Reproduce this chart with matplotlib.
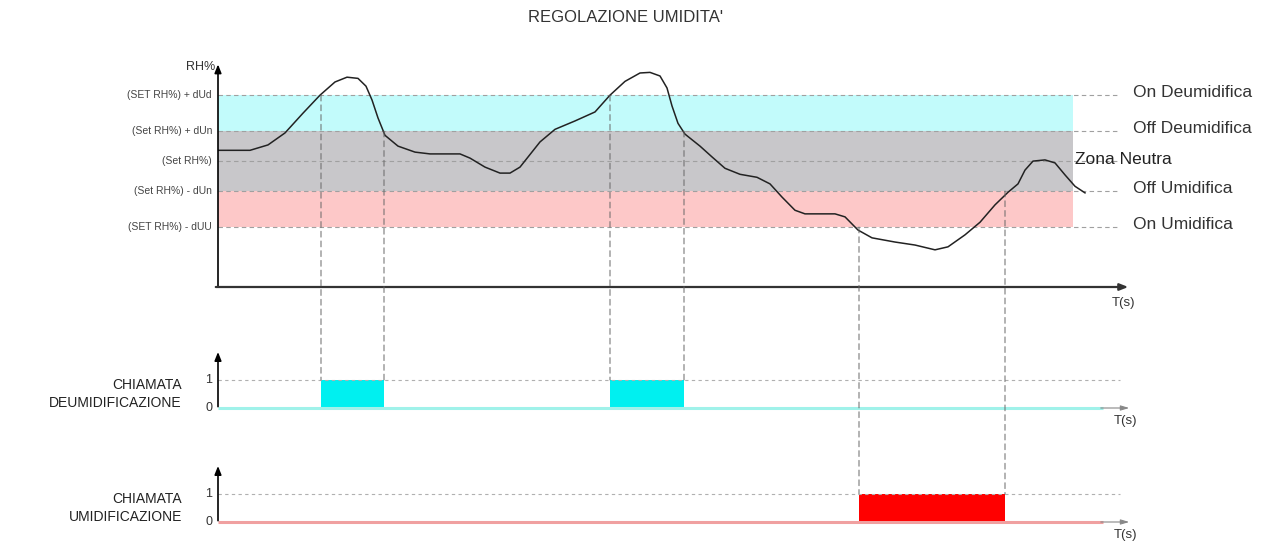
import numpy as np
import matplotlib.pyplot as plt
from matplotlib.patches import ConnectionPatch

plt.rcParams['font.family'] = ['Liberation Sans', 'DejaVu Sans']

# --- data ---
# humidity curve: time (s) and RH (%)
t_curve = [0, 32, 50, 67, 85, 102, 117, 129, 140, 148, 154, 160, 167, 180, 197, 212,
           242, 252, 267, 282, 292, 302, 322, 337, 357, 377, 392, 407, 422, 432, 442,
           449, 454, 460, 467, 482, 494, 507, 522, 539, 552, 564, 577, 587, 617, 627,
           640, 654, 677, 697, 717, 730, 747, 762, 777, 790, 800, 807, 815, 827, 837,
           847, 857, 867]
rh_curve = [51.8, 51.8, 52.7, 54.7, 58.0, 61.0, 63.2, 64.0, 63.8, 62.5, 60.2, 57.2,
            54.3, 52.5, 51.5, 51.2, 51.2, 50.5, 49.0, 48.0, 48.0, 49.0, 53.2, 55.3,
            56.7, 58.2, 61.0, 63.3, 64.7, 64.8, 64.2, 62.2, 59.2, 56.3, 54.5, 52.5,
            50.7, 48.8, 47.8, 47.3, 46.2, 44.0, 41.8, 41.2, 41.2, 40.7, 38.5, 37.2,
            36.5, 36.0, 35.2, 35.7, 37.7, 39.8, 42.7, 44.8, 46.2, 48.5, 50.0, 50.2,
            49.7, 47.7, 45.8, 44.7]

set_rh = 50
dUd = 11
dUn = 5
dUU = 11
level_names = ['(SET RH%) + dUd', '(Set RH%) + dUn', '(Set RH%)',
               '(Set RH%) - dUn', '(SET RH%) - dUU']
level_values = [set_rh + dUd, set_rh + dUn, set_rh, set_rh - dUn, set_rh - dUU]
right_names = ['On Deumidifica', 'Off Deumidifica', 'Off Umidifica', 'On Umidifica']
right_values = [set_rh + dUd, set_rh + dUn, set_rh - dUn, set_rh - dUU]

# switching instants (s)
deum_on = [103, 392]
deum_off = [166, 466]
umid_on = [641]
umid_off = [787]

W, H = 1263, 542
fig = plt.figure(figsize=(W / 100, H / 100), dpi=100)


def axes_px(x0, y0, x1, y1):
    return fig.add_axes([x0 / W, 1 - y1 / H, (x1 - x0) / W, (y1 - y0) / H])


t_max = 912
ax = axes_px(218, 55, 218 + t_max, 287)
ax.set_xlim(0, t_max)
ax.set_ylim(29, 67.7)
ax2 = axes_px(218, 345, 218 + t_max, 430)
ax2.set_xlim(0, t_max)
ax2.set_ylim(-22 / 28, 63 / 28)
ax3 = axes_px(218, 455, 218 + t_max, 542)
ax3.set_xlim(0, t_max)
ax3.set_ylim(-20 / 28, 67 / 28)
for a in (ax, ax2, ax3):
    a.set_axis_off()

arrow = dict(arrowstyle='-|>,head_length=0.5,head_width=0.2', color='black', lw=1.2)

# --- top chart ---
band_end = 855
ax.fill_between([0, band_end], set_rh + dUn, set_rh + dUd, color='#c2fbfb', lw=0)
ax.fill_between([0, band_end], set_rh - dUn, set_rh + dUn, color='#c8c7ca', lw=0)
ax.fill_between([0, band_end], set_rh - dUU, set_rh - dUn, color='#fdc8c8', lw=0)
for v in level_values:
    ax.plot([0, 902], [v, v], color='#a0a0a0', lw=0.8, ls=(0, (4, 3)))

ax.plot(t_curve, rh_curve, color='#222222', lw=1.1, solid_joinstyle='round')

ax.annotate('', xy=(0, 66.6), xytext=(0, 28.6), arrowprops=arrow, annotation_clip=False)
ax.annotate('', xy=(913, 29), xytext=(-5, 29), annotation_clip=False,
            arrowprops=dict(arrow, color='#333333', lw=1.6))
ax.text(905, 27.4, 'T(s)', fontsize=9.5, color='#333333', ha='center', va='top')
ax.text(-3, 65.7, 'RH%', fontsize=9, color='#333333', ha='right', va='center')

for name, v in zip(level_names, level_values):
    ax.text(-6, v, name, fontsize=7.5, color='#444444', ha='right', va='center')
for name, v in zip(right_names, right_values):
    ax.text(915, v + 0.5, name, fontsize=12.5, color='#333333', ha='left', va='center')
ax.text(857, set_rh + 0.2, 'Zona Neutra', fontsize=12.5, color='#222222',
        ha='left', va='center')

fig.text(625 / W, 1 - 18 / H, "REGOLAZIONE UMIDITA'", fontsize=12, color='#333333',
         ha='center', va='center')


# --- call charts ---
def call_chart(a, ons, offs, colour, base_colour, label):
    a.plot([0, 902], [1, 1], color='#b0b0b0', lw=0.8, ls=(0, (3, 3)))
    a.plot([0, 885], [0, 0], color=base_colour, lw=2.2, solid_capstyle='butt')
    a.annotate('', xy=(914, 0), xytext=(880, 0), annotation_clip=False,
               arrowprops=dict(arrowstyle='-|>,head_length=0.5,head_width=0.15',
                               color='#888888', lw=0.8))
    for t0, t1 in zip(ons, offs):
        a.fill_between([t0, t1], 0, 1, color=colour, lw=0)
    a.annotate('', xy=(0, 2.1), xytext=(0, -0.05), arrowprops=arrow,
               annotation_clip=False)
    a.text(-6, 1, '1', fontsize=9, color='#333333', ha='right', va='center')
    a.text(-6, 0, '0', fontsize=9, color='#333333', ha='right', va='center')
    a.text(907, -0.25, 'T(s)', fontsize=9.5, color='#333333', ha='center', va='top')
    a.text(-36, 0.5, label, fontsize=10, color='#222222', ha='right', va='center',
           multialignment='right', linespacing=1.3)


call_chart(ax2, deum_on, deum_off, '#00f0f0', '#a0f2ea', 'CHIAMATA\nDEUMIDIFICAZIONE')
call_chart(ax3, umid_on, umid_off, '#ff0000', '#f0a0a0', 'CHIAMATA\nUMIDIFICAZIONE')


# dashed guides from the thresholds down to the call charts
def guide(t, level, target):
    fig.add_artist(ConnectionPatch(xyA=(t, level), xyB=(t, 1), coordsA='data',
                                   coordsB='data', axesA=ax, axesB=target,
                                   color='#666666', lw=0.7, ls=(0, (6, 4))))


for t in deum_on:
    guide(t, set_rh + dUd, ax2)
for t in deum_off:
    guide(t, set_rh + dUn, ax2)
for t in umid_on:
    guide(t, set_rh - dUU, ax3)
for t in umid_off:
    guide(t, set_rh - dUn, ax3)

fig.savefig('out.png', dpi=100)
